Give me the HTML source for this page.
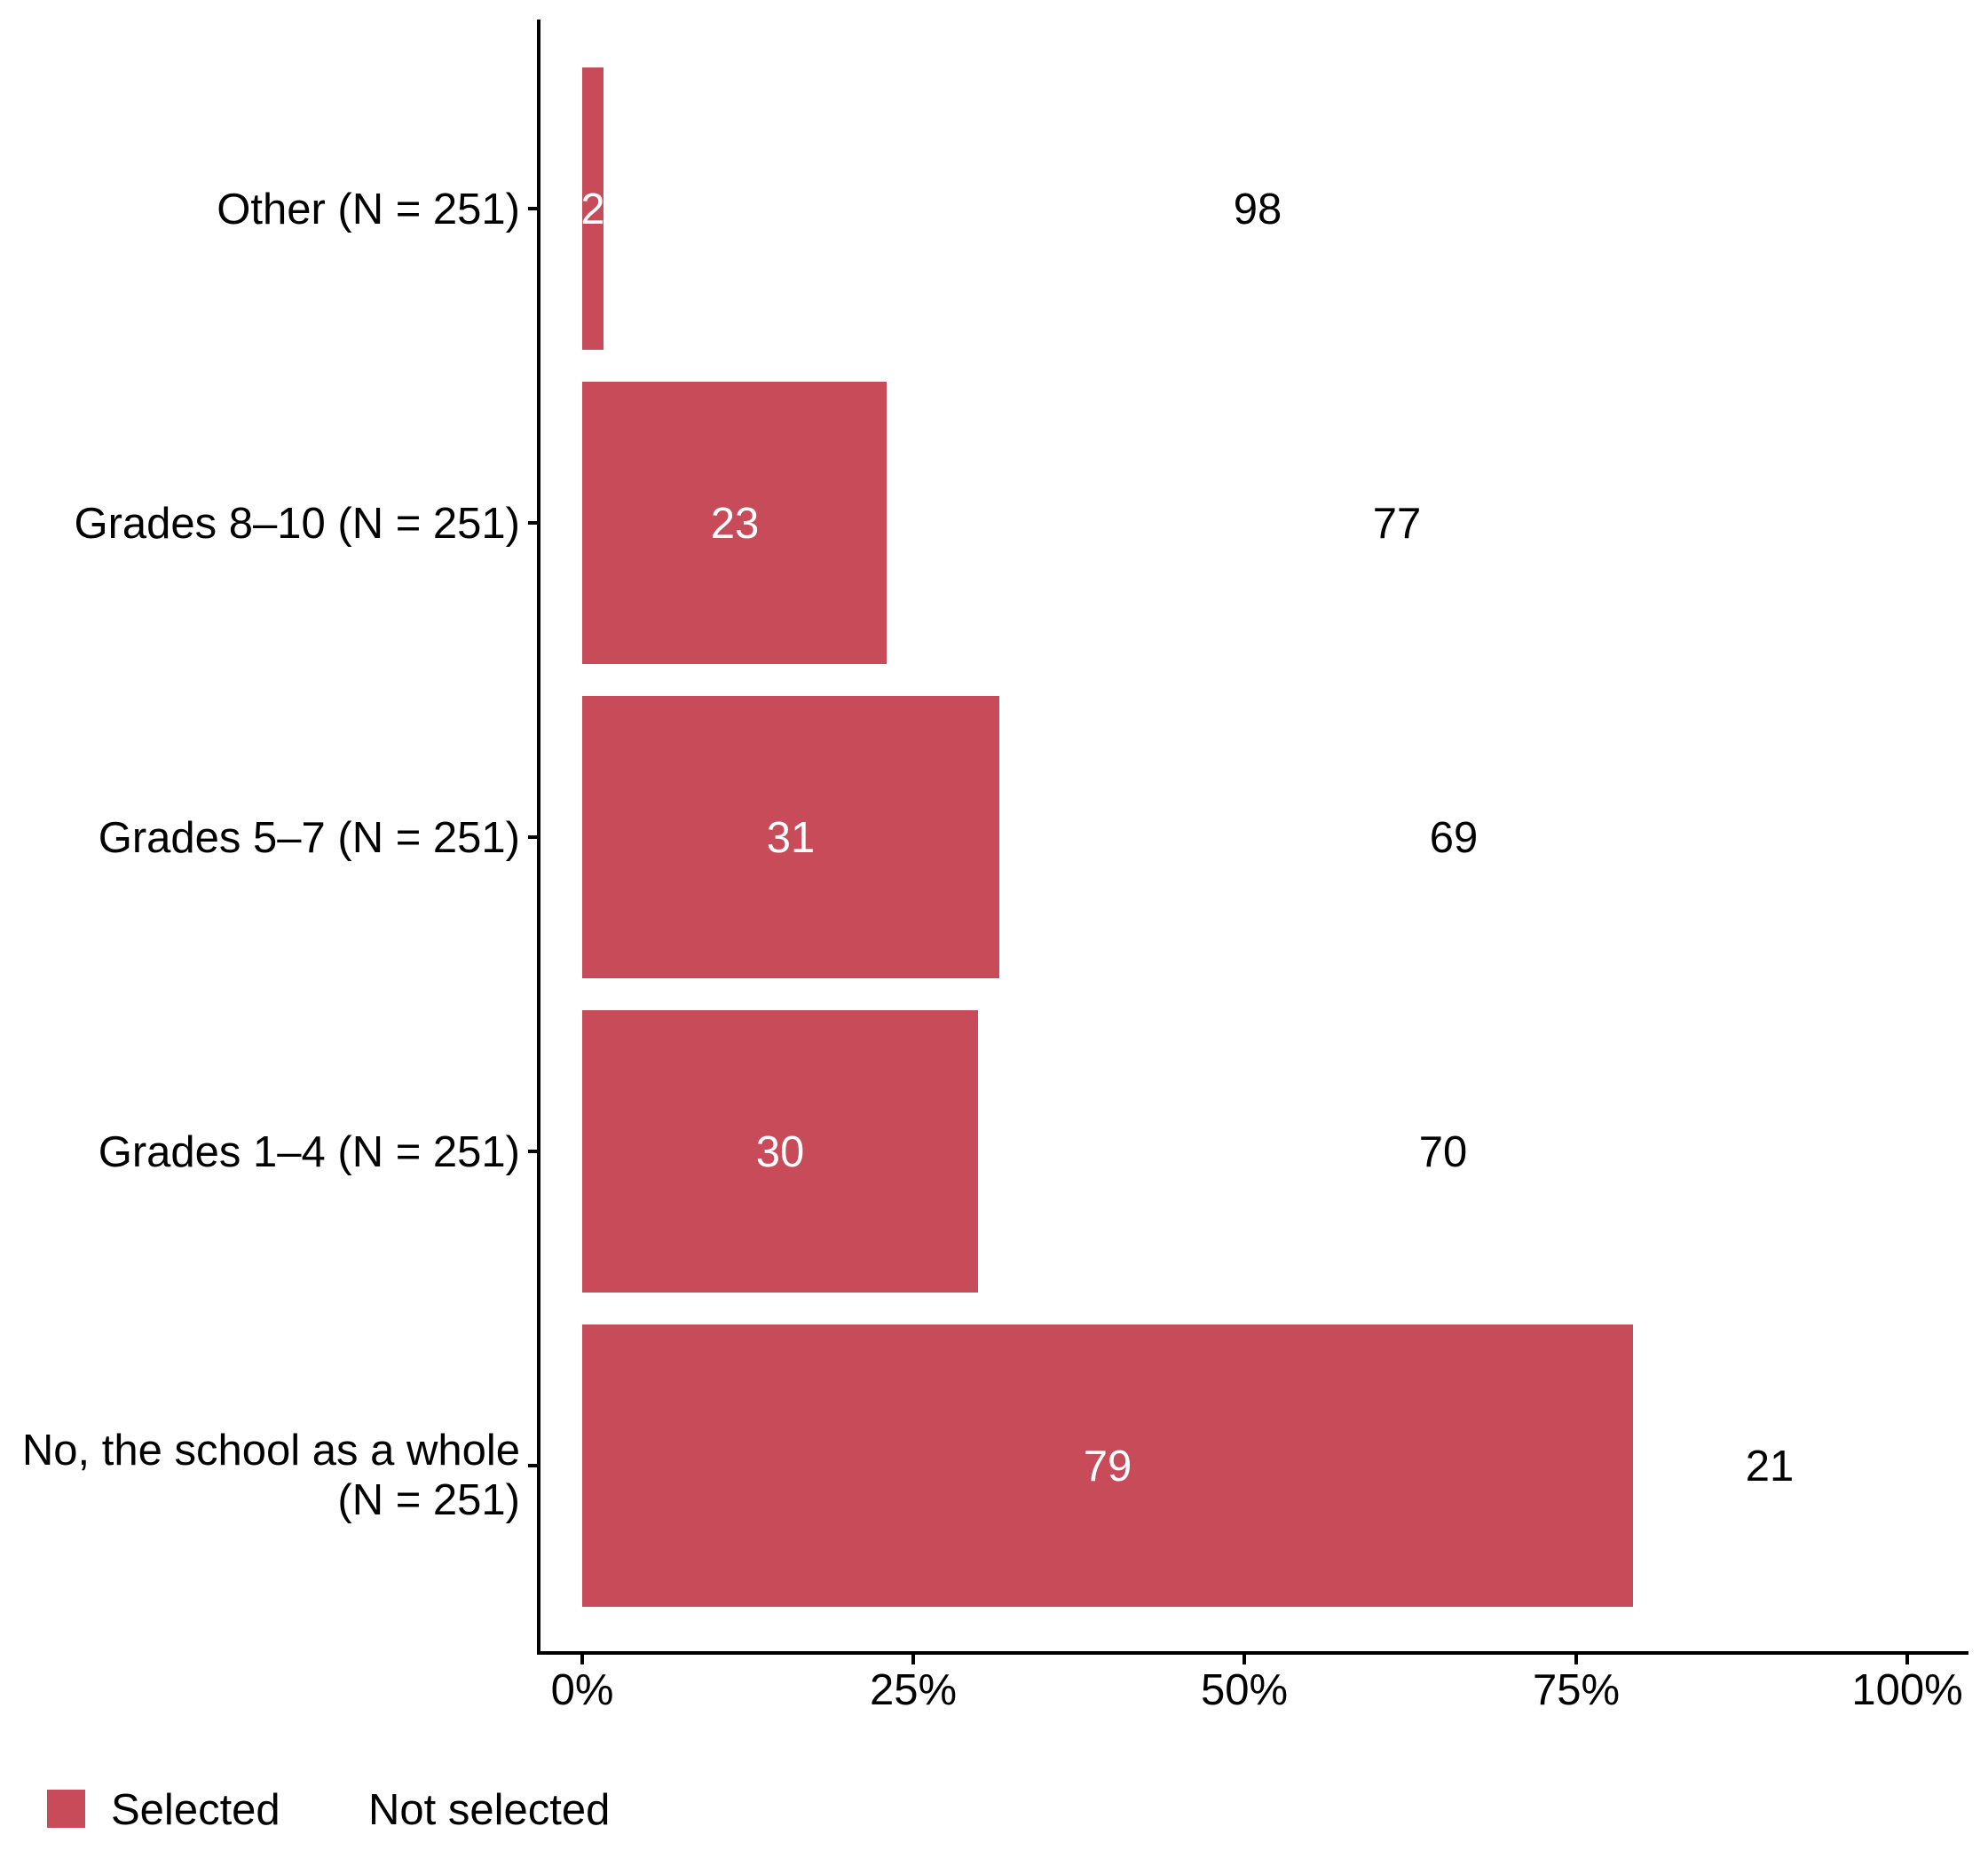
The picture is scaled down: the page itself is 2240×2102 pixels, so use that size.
<!DOCTYPE html>
<html><head><meta charset="utf-8"><style>
html,body{margin:0;padding:0;background:#fff}
svg{display:block}
text{font-family:"Liberation Sans",Arial,sans-serif;font-size:49px}
</style></head><body>
<svg width="2240" height="2102" viewBox="0 0 2240 2102" xmlns="http://www.w3.org/2000/svg">
<g fill="#C84B5A">
<rect x="656" y="76" width="24" height="318"/>
<rect x="656" y="430" width="343" height="318"/>
<rect x="656" y="784" width="470" height="318"/>
<rect x="656" y="1138" width="446" height="318"/>
<rect x="656" y="1492" width="1184" height="318"/>
</g>
<g stroke="#000" stroke-width="4" fill="none">
<line x1="607" y1="22" x2="607" y2="1864"/>
<line x1="605" y1="1862" x2="2218" y2="1862"/>
<line x1="595" y1="235" x2="607" y2="235"/>
<line x1="595" y1="589" x2="607" y2="589"/>
<line x1="595" y1="943" x2="607" y2="943"/>
<line x1="595" y1="1297" x2="607" y2="1297"/>
<line x1="595" y1="1651" x2="607" y2="1651"/>
<line x1="656" y1="1862" x2="656" y2="1875"/>
<line x1="1029" y1="1862" x2="1029" y2="1875"/>
<line x1="1402" y1="1862" x2="1402" y2="1875"/>
<line x1="1776" y1="1862" x2="1776" y2="1875"/>
<line x1="2149" y1="1862" x2="2149" y2="1875"/>
</g>
<g text-anchor="end" fill="#000">
<text x="586" y="252">Other (N = 251)</text>
<text x="586" y="606">Grades 8–10 (N = 251)</text>
<text x="586" y="960">Grades 5–7 (N = 251)</text>
<text x="586" y="1314">Grades 1–4 (N = 251)</text>
<text x="586" y="1650">No, the school as a whole</text>
<text x="586" y="1706">(N = 251)</text>
</g>
<g text-anchor="middle" fill="#fff">
<text x="668" y="252">2</text>
<text x="828" y="606">23</text>
<text x="891" y="960">31</text>
<text x="879" y="1314">30</text>
<text x="1248" y="1668">79</text>
</g>
<g text-anchor="middle" fill="#000">
<text x="1417" y="252">98</text>
<text x="1574" y="606">77</text>
<text x="1638" y="960">69</text>
<text x="1626" y="1314">70</text>
<text x="1994" y="1668">21</text>
<text x="656" y="1920">0%</text>
<text x="1029" y="1920">25%</text>
<text x="1402" y="1920">50%</text>
<text x="1776" y="1920">75%</text>
<text x="2149" y="1920">100%</text>
</g>
<rect x="53" y="2016" width="43" height="43" fill="#C84B5A"/>
<text x="125" y="2055">Selected</text>
<text x="415" y="2055">Not selected</text>
</svg>
</body></html>
